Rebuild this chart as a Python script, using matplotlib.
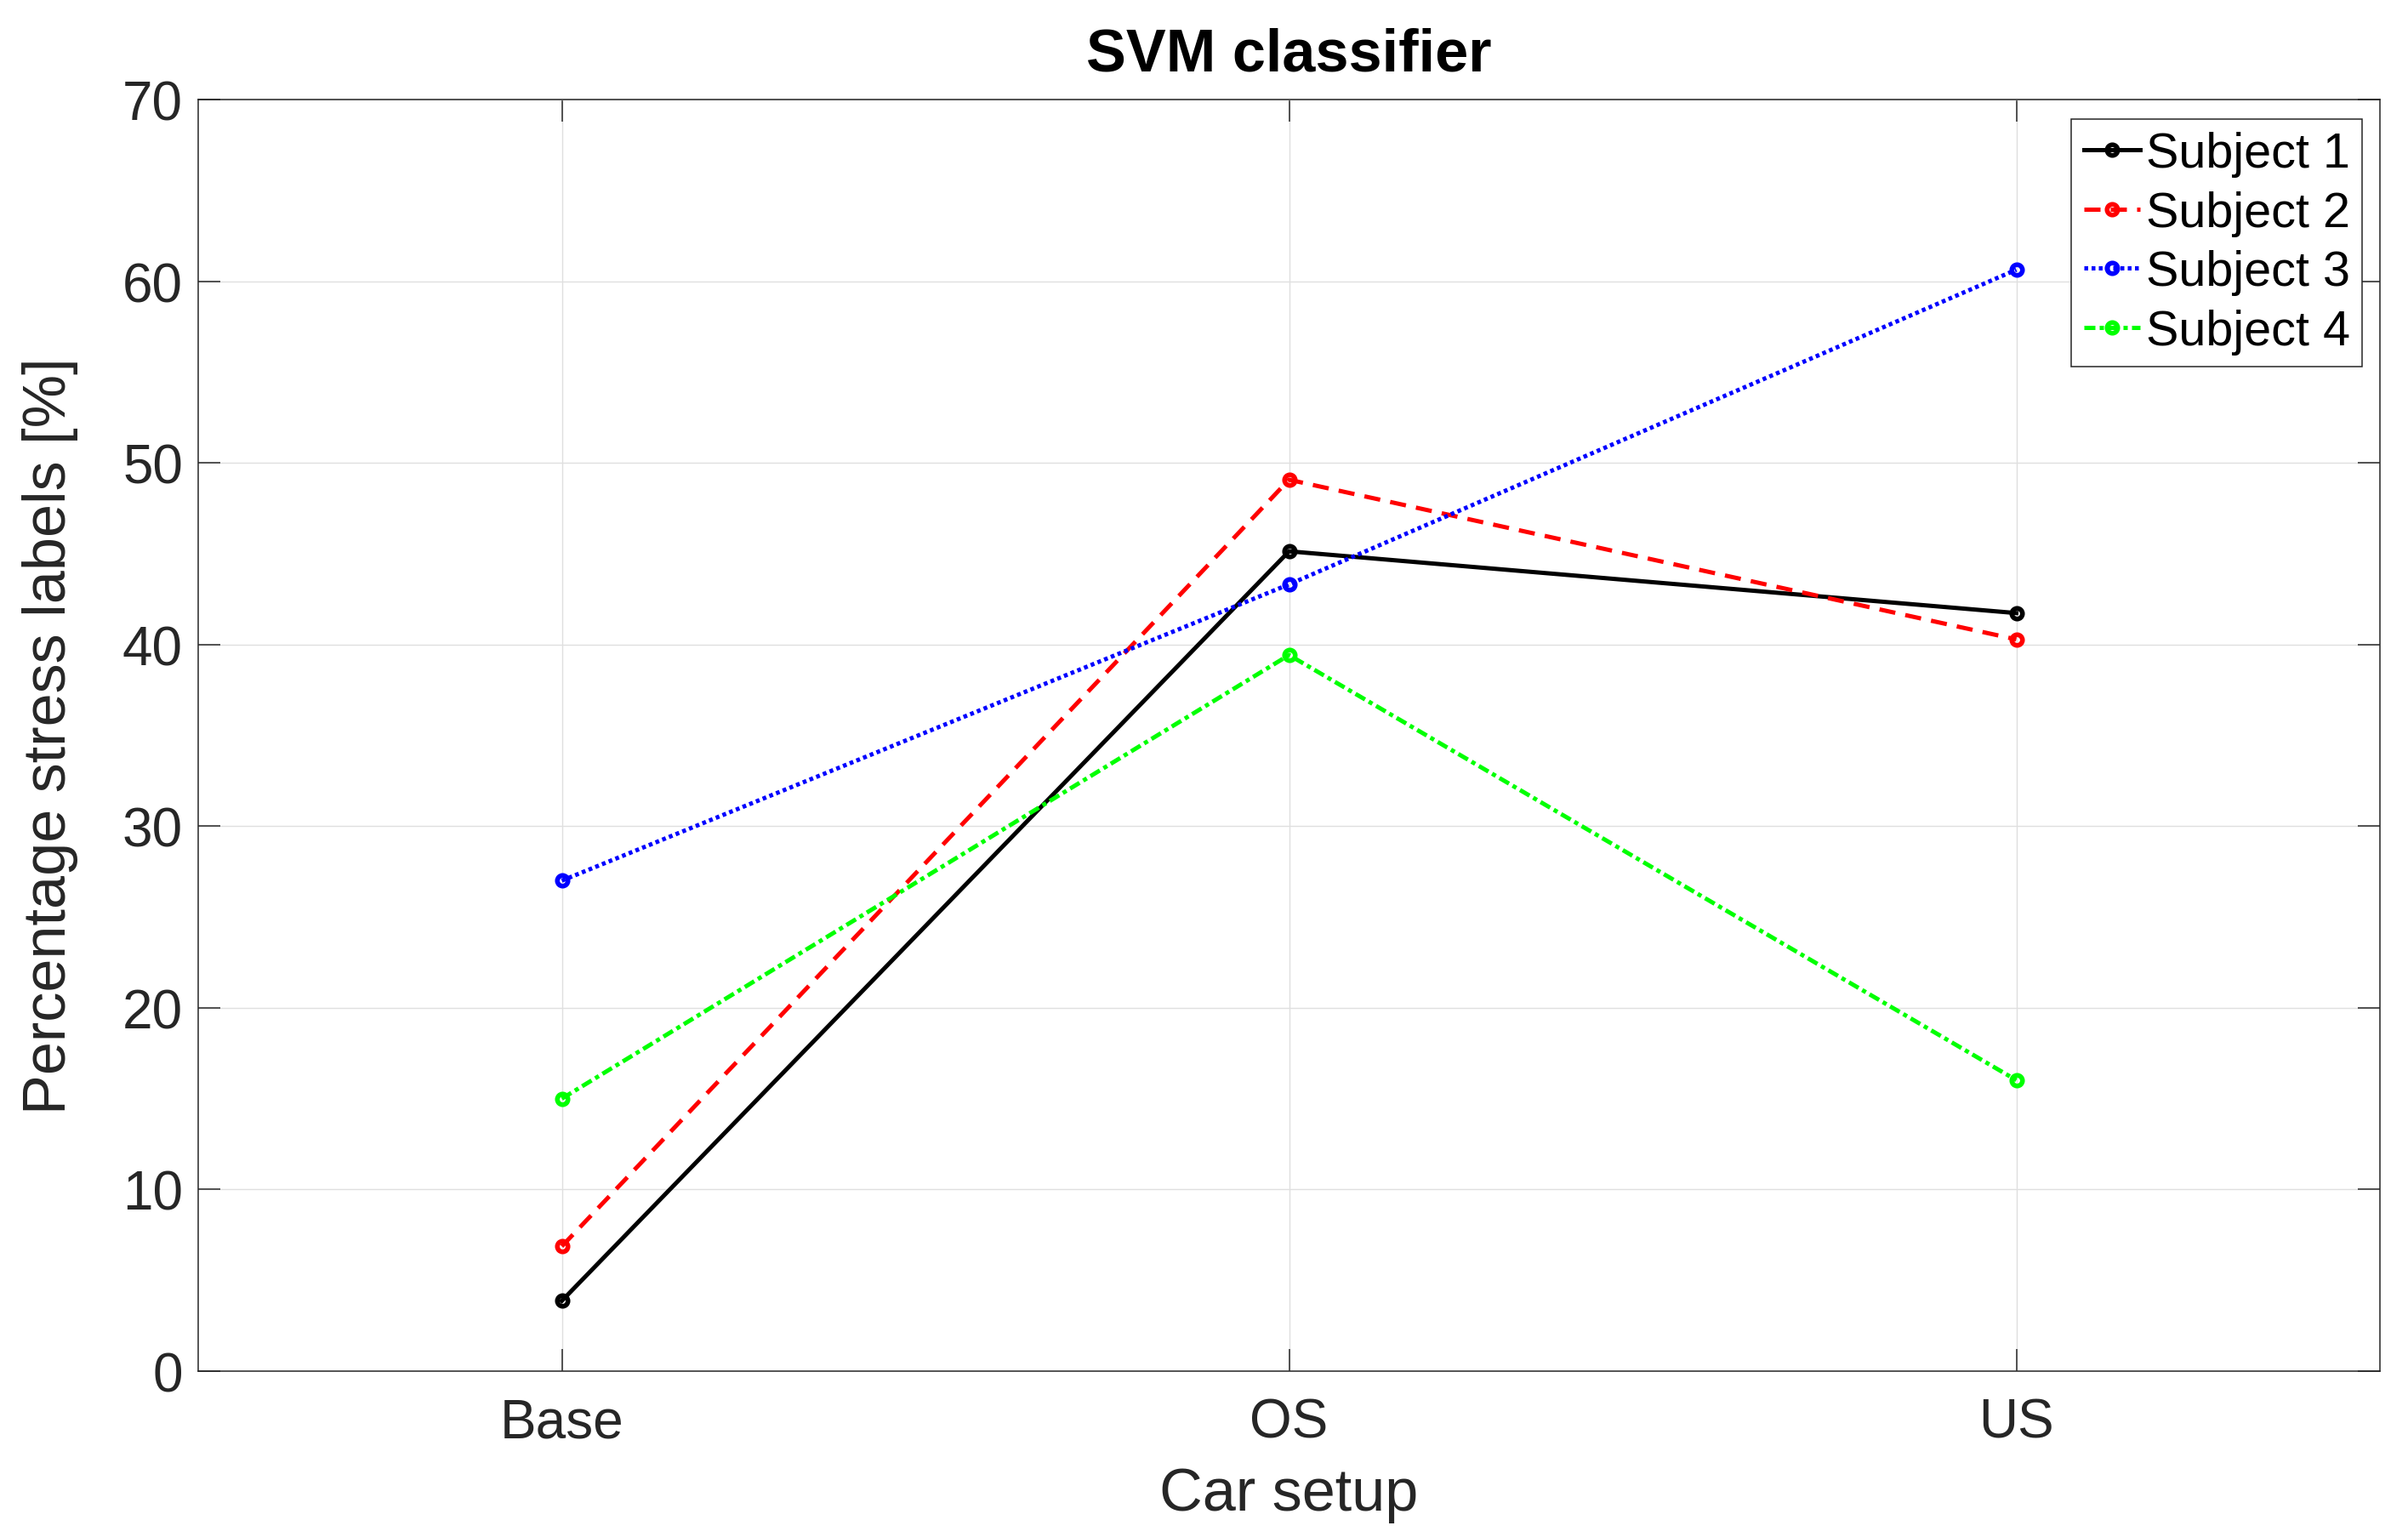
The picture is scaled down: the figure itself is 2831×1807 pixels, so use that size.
import matplotlib
matplotlib.use("Agg")
import matplotlib.pyplot as plt

plt.rcParams['font.family'] = ['Liberation Sans', 'DejaVu Sans']

setups = ["Base", "OS", "US"]
subject_labels = ["Subject 1", "Subject 2", "Subject 3", "Subject 4"]
subject1 = [3.87, 45.13, 41.73]
subject2 = [6.87, 49.07, 40.28]
subject3 = [27.0, 43.31, 60.63]
subject4 = [15.0, 39.42, 16.02]
yticks = [0, 10, 20, 30, 40, 50, 60, 70]

series = [subject1, subject2, subject3, subject4]
colors = ["#000000", "#ff0000", "#0000ff", "#00ff00"]
styles = ["-", (0, (3.8, 2.4)), (0, (0.9, 0.8)), (0, (2.6, 1.0, 1.0, 1.0))]

W, H = 2831, 1808
fig = plt.figure(figsize=(W / 100, H / 100), dpi=100)
L, R, B, T = 233, 2798, 1613, 118
ax = fig.add_axes([L / W, 1 - B / H, (R - L) / W, (B - T) / H])

xs = list(range(1, len(setups) + 1))
for vals, lab, c, ls in zip(series, subject_labels, colors, styles):
    ax.plot(xs, vals, color=c, linestyle=ls, linewidth=3.6, marker='o',
            markersize=9.0, markeredgewidth=4.0, markerfacecolor='none',
            markeredgecolor=c, label=lab)

ax.set_xlim(0.5, 3.5)
ax.set_ylim(0, 70)
ax.set_xticks(xs)
ax.set_xticklabels(setups)
ax.set_yticks(yticks)

dark = "#262626"
for s in ax.spines.values():
    s.set_color(dark)
    s.set_linewidth(1.1)
ax.tick_params(axis='both', direction='in', length=19, width=1.1, color=dark,
               labelcolor=dark, labelsize=46, top=True, right=True)
ax.tick_params(axis='x', pad=22)
ax.tick_params(axis='y', pad=13)
ax.grid(True, color="#dfdfdf", linewidth=1.0)
ax.set_axisbelow(True)

ax.set_xlabel("Car setup", fontsize=50.6, color=dark)
ax.xaxis.set_label_coords(0.5, (B - 1725) / (B - T))
ax.set_ylabel("Percentage stress labels [%]", fontsize=50.6, color=dark)
ax.yaxis.set_label_coords((92 - L) / (R - L), 0.5)

fig.text((L + R) / 2 / W, 1 - 83 / H, "SVM classifier", fontsize=50.6, fontweight='bold',
         ha='center', va='baseline', color='black')

leg = ax.legend(loc='upper right',
                bbox_to_anchor=((2777 - L) / (R - L), (B - 141) / (B - T)),
                borderaxespad=0, fontsize=41.4, handlelength=1.15,
                handletextpad=0.12, borderpad=0.25, labelspacing=0.27,
                fancybox=False, framealpha=1, edgecolor=dark)
leg.get_frame().set_linewidth(1.1)
for t in leg.get_texts():
    t.set_color('black')

fig.savefig("out.png", dpi=100)
